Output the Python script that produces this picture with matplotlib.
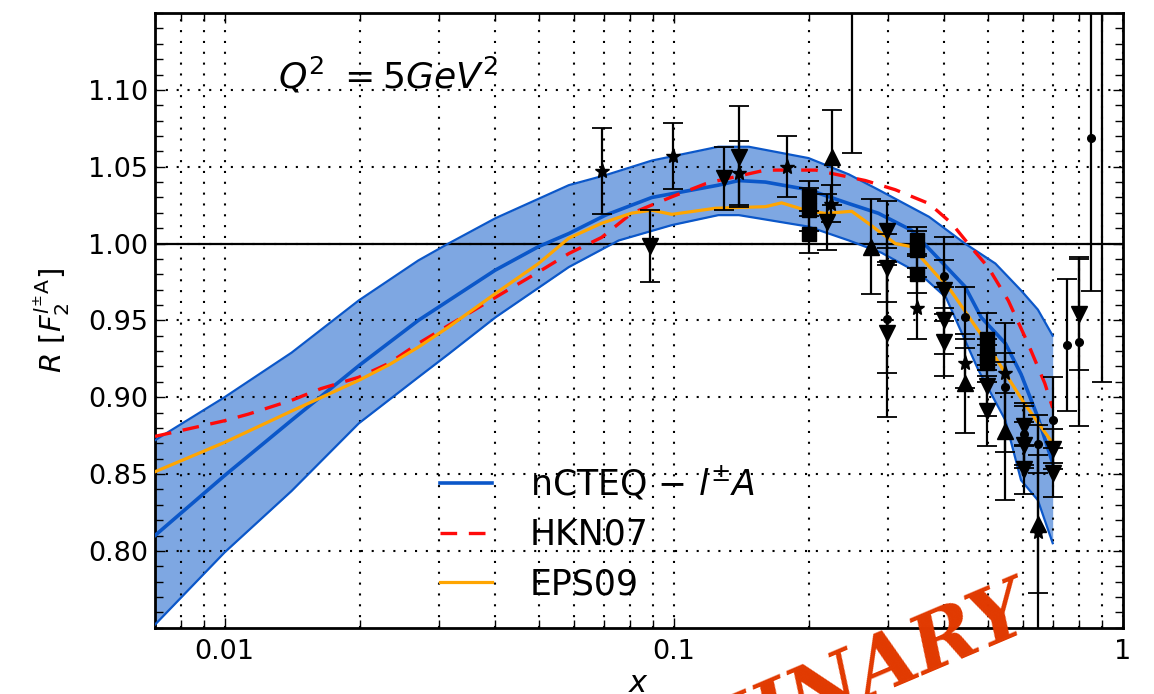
import numpy as np
import matplotlib
matplotlib.use('Agg')
import matplotlib.pyplot as plt
from matplotlib.lines import Line2D
from matplotlib.ticker import FixedLocator, NullFormatter, FixedFormatter

# nCTEQ l±A central fit and its uncertainty band
ncteq_x = [0.007, 0.01, 0.0141, 0.02, 0.027, 0.04, 0.05, 0.0584, 0.0705, 0.0894,
           0.1257, 0.1396, 0.16, 0.1996, 0.2454, 0.2855, 0.338, 0.389, 0.445,
           0.4835, 0.5474, 0.5931, 0.6465, 0.6976]
ncteq_y = [0.810, 0.849, 0.885, 0.921, 0.950, 0.9826, 0.998, 1.0065, 1.0185, 1.030,
           1.038, 1.041, 1.040, 1.035, 1.026, 1.0197, 1.0087, 0.990, 0.972,
           0.952, 0.935, 0.915, 0.887, 0.857]

band_hi_x = [0.007, 0.01, 0.0141, 0.0199, 0.027, 0.0315, 0.0401, 0.0584, 0.0705, 0.0894,
             0.1257, 0.1469, 0.1996, 0.2454, 0.2855, 0.3701, 0.445, 0.52, 0.5931,
             0.6465, 0.6976]
band_hi_y = [0.872, 0.900, 0.929, 0.963, 0.989, 1.000, 1.0165, 1.038, 1.0445, 1.054,
             1.063, 1.063, 1.0556, 1.045, 1.035, 1.0174, 1.000, 0.987, 0.9695,
             0.957, 0.940]

band_lo_x = [0.007, 0.01, 0.0141, 0.0199, 0.027, 0.0315, 0.0401, 0.0584, 0.0754, 0.099,
             0.1257, 0.1396, 0.15, 0.1996, 0.2454, 0.29, 0.3524, 0.4035, 0.476,
             0.5474, 0.5931, 0.6465, 0.6976]
band_lo_y = [0.752, 0.799, 0.839, 0.883, 0.913, 0.928, 0.952, 0.9847, 1.002, 1.012,
             1.0185, 1.0185, 1.017, 1.011, 1.002, 0.994, 0.9805, 0.965, 0.918,
             0.885, 0.846, 0.833, 0.805]

# HKN07 and EPS09 predictions
hkn_x = [0.007, 0.01, 0.0113, 0.0141, 0.0164, 0.0199, 0.0232, 0.027, 0.0401, 0.05,
         0.0584, 0.0691, 0.0806, 0.099, 0.1179, 0.1257, 0.16, 0.207, 0.267, 0.3114,
         0.3701, 0.416, 0.459, 0.501, 0.5553, 0.6145, 0.67, 0.6976]
hkn_y = [0.8745, 0.8847, 0.889, 0.898, 0.9056, 0.913, 0.922, 0.935, 0.965, 0.9815,
         0.9935, 1.004, 1.0197, 1.0304, 1.039, 1.041, 1.0478, 1.0478, 1.041, 1.035,
         1.026, 1.013, 0.9976, 0.9846, 0.963, 0.935, 0.909, 0.893]

eps_x = [0.007, 0.01, 0.0141, 0.0199, 0.0232, 0.027, 0.0315, 0.0401, 0.05, 0.0584,
         0.0691, 0.0806, 0.0894, 0.099, 0.124, 0.16, 0.1738, 0.1966, 0.2175, 0.249,
         0.2716, 0.29, 0.3114, 0.338, 0.389, 0.4035, 0.48, 0.60, 0.6976]
eps_y = [0.8515, 0.8706, 0.891, 0.911, 0.921, 0.9326, 0.9456, 0.9675, 0.987, 1.0035,
         1.0132, 1.0198, 1.0217, 1.019, 1.023, 1.024, 1.0265, 1.0217, 1.0196, 1.021,
         1.013, 1.0067, 1.000, 0.998, 0.978, 0.974, 0.942, 0.897, 0.870]

# measured ratios, grouped by marker
star_x = [0.0691, 0.0995, 0.1396, 0.1785, 0.2237, 0.3476, 0.445, 0.5474, 0.6465]
star_y = [1.047, 1.057, 1.046, 1.050, 1.026, 0.958, 0.922, 0.916, 0.812]
star_e = [0.028, 0.0215, 0.021, 0.020, 0.012, 0.020, 0.016, 0.013, 0.070]

vtri_x = [0.0887, 0.1292, 0.1396, 0.2192, 0.2981, 0.2981, 0.2981, 0.3994, 0.3994, 0.3994,
          0.4979, 0.4979, 0.6019, 0.6019, 0.6019, 0.6976, 0.6976, 0.798]
vtri_y = [0.9985, 1.0425, 1.0565, 1.014, 1.008, 0.984, 0.942, 0.9695, 0.950, 0.936,
          0.9076, 0.891, 0.8815, 0.869, 0.853, 0.8665, 0.851, 0.954]
vtri_e = [0.0235, 0.0205, 0.033, 0.018, 0.020, 0.022, 0.055, 0.020, 0.022, 0.022,
          0.020, 0.023, 0.013, 0.015, 0.016, 0.013, 0.016, 0.036]

utri_x = [0.2246, 0.2747, 0.445, 0.5474, 0.6465]
utri_y = [1.056, 0.998, 0.909, 0.878, 0.8175]
utri_e = [0.031, 0.031, 0.032, 0.045, 0.045]

sq_x = [0.1996, 0.1996, 0.1996, 0.3476, 0.3476, 0.3476, 0.4979, 0.4979, 0.4979]
sq_y = [1.031, 1.022, 1.006, 1.002, 0.996, 0.980, 0.938, 0.928, 0.922]
sq_e = [0.010, 0.014, 0.012, 0.009, 0.012, 0.012, 0.017, 0.010, 0.012]

circ_x = [0.249, 0.2981, 0.3994, 0.445, 0.5474, 0.6019, 0.6465, 0.6976, 0.7503, 0.798,
          0.8486, 0.8978]
circ_y = [1.17, 0.951, 0.979, 0.952, 0.9065, 0.876, 0.8695, 0.885, 0.934, 0.936,
          1.069, 1.20]
circ_e = [0.111, 0.035, 0.025, 0.020, 0.042, 0.020, 0.019, 0.028, 0.043, 0.055,
          0.100, 0.290]

BLUE = '#0b57c9'
FILL = '#7ea7e2'
RED = '#ff0a0a'

fig = plt.figure(figsize=(11.54, 6.94), dpi=100)
ax = fig.add_axes([0.1343, 0.0955, 0.8388, 0.8857])
ax.set_xscale('log')
ax.set_xlim(0.007, 1.0)
ax.set_ylim(0.75, 1.15)

# band: fill between the two edges on a common grid
gx = np.union1d(band_hi_x, band_lo_x)
hi = np.interp(np.log(gx), np.log(band_hi_x), band_hi_y)
lo = np.interp(np.log(gx), np.log(band_lo_x), band_lo_y)
ax.fill_between(gx, lo, hi, color=FILL, lw=0, zorder=1)
ax.plot(band_hi_x, band_hi_y, color=BLUE, lw=1.6, zorder=3)
ax.plot(band_lo_x, band_lo_y, color=BLUE, lw=1.6, zorder=3)
ax.plot(ncteq_x, ncteq_y, color=BLUE, lw=2.6, zorder=3)
ax.plot(hkn_x, hkn_y, color=RED, lw=2.4, dashes=(5, 3.5), zorder=3)
ax.plot(eps_x, eps_y, color='orange', lw=2.3, zorder=3)
ax.axhline(1.0, color='k', lw=1.6, zorder=2.7)

eb = dict(color='k', ecolor='k', elinewidth=1.6, capsize=7, capthick=1.3, ls='none', zorder=5)
ax.errorbar(star_x, star_y, yerr=star_e, fmt='*', ms=11, **eb)
ax.errorbar(vtri_x, vtri_y, yerr=vtri_e, fmt='v', ms=11, **eb)
ax.errorbar(utri_x, utri_y, yerr=utri_e, fmt='^', ms=11, **eb)
ax.errorbar(sq_x, sq_y, yerr=sq_e, fmt='s', ms=9.5, **eb)
ax.errorbar(circ_x, circ_y, yerr=circ_e, fmt='o', ms=5.5, **eb)

# ticks and grid
ax.xaxis.set_major_locator(FixedLocator([0.01, 0.1, 1.0]))
ax.xaxis.set_major_formatter(FixedFormatter(['0.01', '0.1', '1']))
minors = [m * d for d in (0.001, 0.01, 0.1) for m in range(2, 10)]
ax.xaxis.set_minor_locator(FixedLocator(minors))
ax.xaxis.set_minor_formatter(NullFormatter())
yt = [0.80, 0.85, 0.90, 0.95, 1.00, 1.05, 1.10]
ax.yaxis.set_major_locator(FixedLocator(yt))
ax.set_yticklabels([f'{v:.2f}' for v in yt])
ax.yaxis.set_minor_locator(FixedLocator(np.round(np.arange(0.75, 1.151, 0.01), 3)))
ax.tick_params(which='both', direction='in', top=True, right=True, width=1.0)
ax.tick_params(which='major', length=7, labelsize=19.5)
ax.tick_params(axis='x', which='major', pad=8)
ax.tick_params(axis='y', which='major', pad=5)
ax.tick_params(which='minor', length=5.5)
ax.set_axisbelow(False)
gl = dict(color='k', lw=1.5, ls=(0, (1, 4.2)))
ax.grid(True, which='major', axis='both', **gl)
ax.grid(True, which='minor', axis='x', **gl)
for s in ax.spines.values():
    s.set_linewidth(2.0)

ax.set_xlabel(r'$x$', fontsize=22, labelpad=3)
ax.set_ylabel(r'$R\ [F_2^{l^{\pm}\mathrm{A}}]$', fontsize=21)
ax.yaxis.set_label_coords(-0.086, 0.5)

ax.text(0.127, 0.878, r'$Q^2\ {=}5GeV^2$', transform=ax.transAxes, fontsize=26,
        ha='left', va='baseline')

handles = [Line2D([], [], color=BLUE, lw=2.6),
           Line2D([], [], color=RED, lw=2.4, dashes=(5, 3.5)),
           Line2D([], [], color='orange', lw=2.3)]
labels = [r'nCTEQ $-$ $l^{\pm}A$', 'HKN07', 'EPS09']
ax.legend(handles, labels, loc='upper left', bbox_to_anchor=(0.294, 0.267),
          frameon=False, fontsize=25, handlelength=1.5, handletextpad=1.1,
          labelspacing=0.45, borderpad=0, borderaxespad=0)

fig.text(0.897, 0.095, 'PRELIMINARY', rotation=23, rotation_mode='anchor',
         ha='right', va='baseline', fontsize=57, color='#e13900',
         family='DejaVu Serif', weight='heavy', style='italic', zorder=10)

fig.savefig('out.png', dpi=100)
